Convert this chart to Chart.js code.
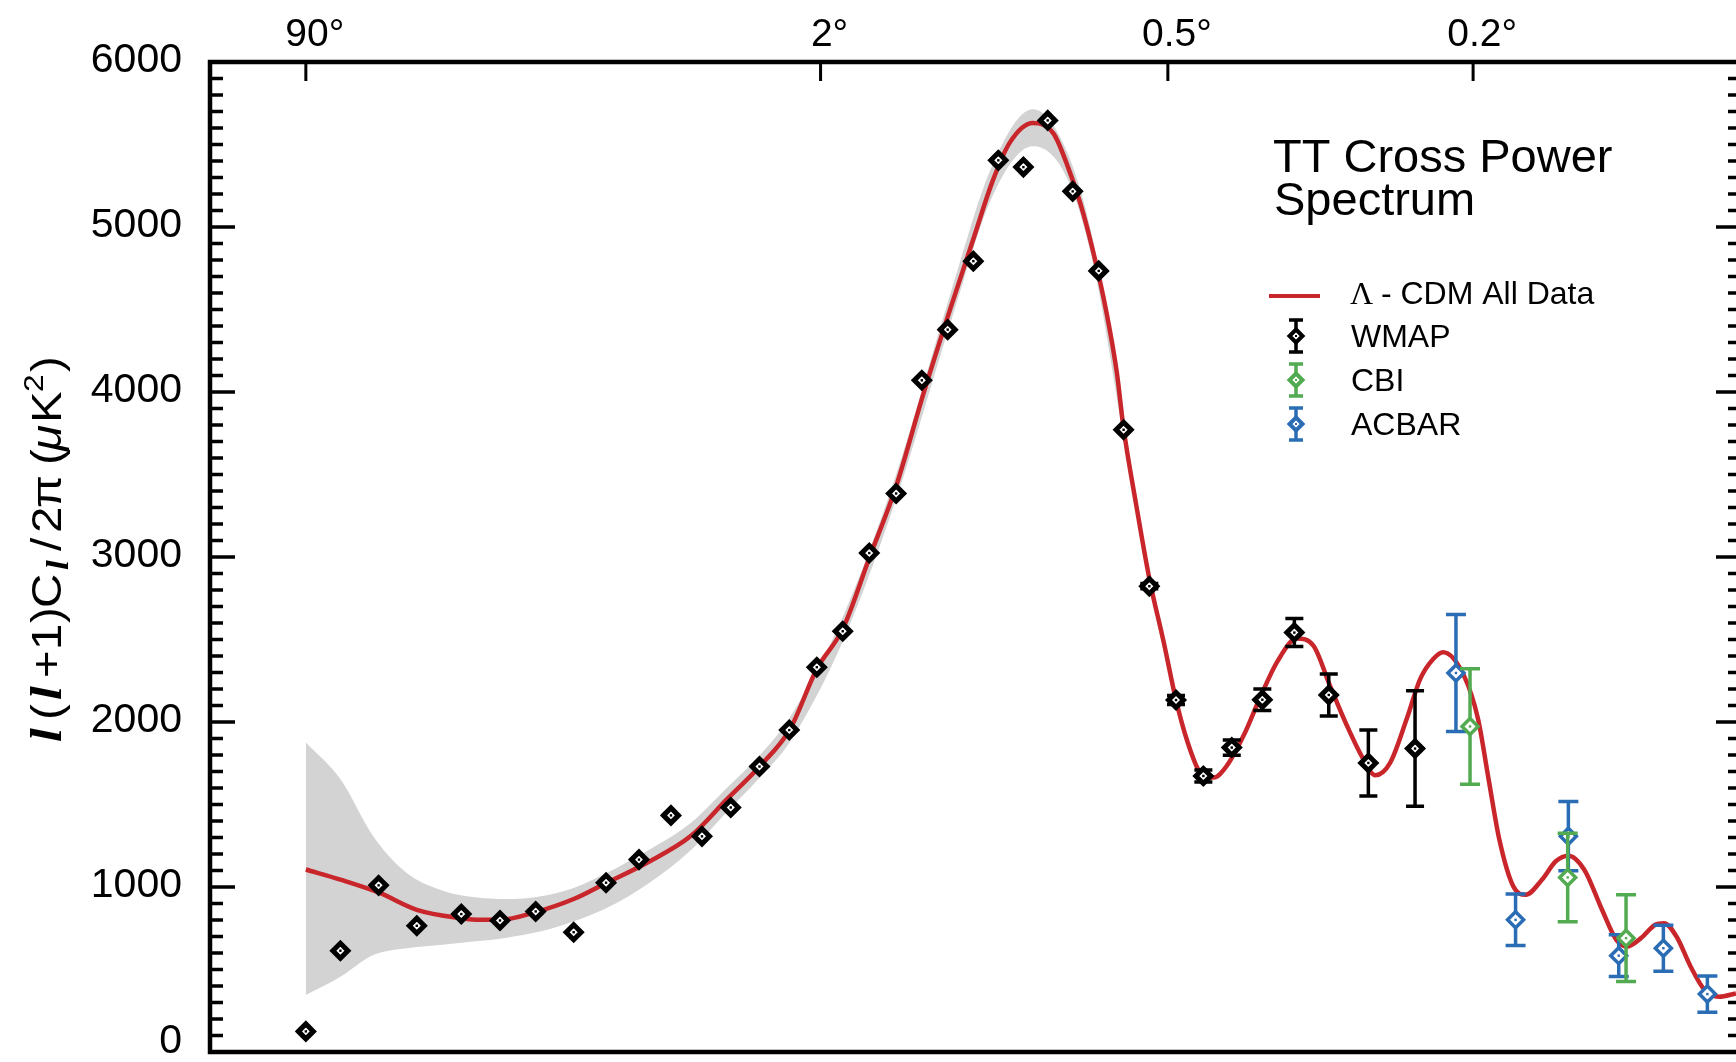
<!DOCTYPE html>
<html>
<head>
<meta charset="utf-8">
<title>TT Cross Power Spectrum</title>
<script src="https://cdn.jsdelivr.net/npm/chart.js@4.4.1/dist/chart.umd.min.js"></script>
<style>
    html, body { margin: 0; padding: 0; background: #fff; overflow: hidden; }
    #wrap { width: 1744px; height: 1062px; }
</style>
</head>
<body>
<div id="wrap"><canvas id="spectrum" width="1744" height="1062"></canvas></div>
<script>
// ========== DATA ==========
// x values are multipole l, y values are l(l+1)Cl/2pi in uK^2
const wmapL = [2.0, 3.0, 4.5, 6.5, 9.6, 13.1, 17.1, 22.3, 27.6, 33.9, 41.0, 48.9, 57.2, 66.5, 77.3, 88.4, 99.9,
    112.8, 127.1, 142.0, 158.3, 175.8, 194.2, 214.1, 234.8, 257.6, 283.1, 309.2, 338.0, 370.0, 405.1, 444.1,
    489.2, 540.0, 598.9, 672.5, 767.8];
const wmapV = [125, 614, 1010, 765, 836, 797, 852, 726, 1026, 1166, 1434, 1307, 1482, 1730, 1951, 2332, 2550,
    3024, 3385, 4071, 4378, 4793, 5404, 5363, 5646, 5216, 4734, 3771, 2823, 2133, 1673, 1845,
    2135, 2542, 2164, 1752, 1839];
const wmapErr = [0, 0, 0, 0, 0, 0, 0, 0, 0, 0, 0, 0, 0, 0, 0, 0, 0,
    0, 0, 0, 0, 0, 0, 0, 0, 0, 0, 0, 16, 27, 36, 46,
    65, 85, 127, 200, 350];

const cbiL = [892.6, 1151.0, 1330.1];
const cbiV = [1973, 1058, 690];
const cbiErr = [350, 268, 263];

const acbarL = [859.3, 1007.0, 1153.0, 1306.6, 1455.1, 1613.5];
const acbarV = [2297, 801, 1308, 584, 629, 351];
const acbarErr = [355, 156, 210, 127, 139, 110];

// Lambda-CDM best fit curve
const modelL = [2.0, 3.0, 4.5, 6.5, 9.6, 11.2, 13.1, 17.1, 22.3, 27.6, 35.5, 46, 56, 66.7, 77.6, 88.4, 100,
    113, 127, 143, 160, 176, 190, 203, 222, 240, 252, 265, 278, 291, 302, 309, 323, 338, 355, 370, 384,
    401, 419, 437, 461, 486, 512, 544, 572, 601, 632, 663, 686, 716, 750, 779, 808, 830, 878, 912, 938,
    965, 1001, 1034, 1078, 1117, 1153, 1200, 1254, 1299, 1333, 1379, 1427, 1457, 1501, 1552, 1604, 1658, 1723];
const modelV = [1106, 1045, 967, 862, 811, 801, 801, 848, 927, 1024, 1146, 1310, 1531, 1734, 1957, 2322, 2566,
    3000, 3425, 3990, 4504, 4932, 5281, 5510, 5630, 5566, 5384, 5142, 4838, 4484, 4115, 3786, 3318, 2870, 2484, 2133, 1886,
    1693, 1663, 1734, 1916, 2150, 2363, 2506, 2463, 2220, 1977, 1774, 1677, 1754, 2018, 2261, 2383, 2423, 2281, 2018, 1653,
    1288, 1004, 953, 1044, 1156, 1190, 1105, 862, 679, 639, 690, 771, 781, 700, 517, 375, 335, 355];

// cosmic variance band around the model
const bandL = [2.0, 3.0, 4.26, 5.92, 8.0, 10.6, 13.8, 17.6, 22.3, 27.7, 35.5, 46, 56, 66.7, 77.6, 100,
    127, 160, 190, 222, 252, 278, 309, 338, 370, 401];
const bandHigh = [1876, 1654, 1308, 1085, 984, 939, 927, 943, 994, 1085, 1217, 1390, 1600, 1800, 2030, 2640,
    3497, 4593, 5380, 5714, 5460, 4902, 3816, 2900, 2140, 1695];
const bandLow = [345, 456, 588, 629, 649, 669, 693, 730, 791, 872, 1014, 1225, 1455, 1665, 1880, 2491,
    3348, 4414, 5191, 5490, 5301, 4763, 3726, 2840, 2125, 1690];

const yTicks = [0, 1000, 2000, 3000, 4000, 5000, 6000];
const topTickL = [2, 90, 360, 900];
const topTickLabels = ["90°", "2°", "0.5°", "0.2°"];
const L_MIN = 0.491;
const L_MAX = 1743;

// ========== STYLE ==========
const FONT = "'Liberation Sans', Arial, Helvetica, sans-serif";
const SERIF = "'Liberation Serif', 'Times New Roman', serif";
const RED = "#c9262c";
const GREEN = "#52ab50";
const BLUE = "#2a6db5";
const GRAY = "#d3d3d3";

// the horizontal axis of the original figure runs as l^(1/4)
const toU = l => Math.pow(l, 0.25);
const pts = (ls, vs) => ls.map((l, i) => ({ x: toU(l), y: vs[i] }));

// ========== PLUGINS ==========
const errorBars = {
    id: "errorBars",
    beforeDatasetDraw(chart, args) {
        const ds = chart.data.datasets[args.index];
        if (!ds.errors) return;
        const ctx = chart.ctx;
        const xs = chart.scales.x;
        const ys = chart.scales.y;
        ctx.save();
        ctx.strokeStyle = ds.pointBorderColor;
        ctx.lineWidth = ds.errWidth;
        ctx.beginPath();
        ds.data.forEach((p, i) => {
            const e = ds.errors[i];
            if (!e) return;
            const px = xs.getPixelForValue(p.x);
            const top = ys.getPixelForValue(p.y + e);
            const bot = ys.getPixelForValue(p.y - e);
            const c = ds.capHalf;
            ctx.moveTo(px, top); ctx.lineTo(px, bot);
            ctx.moveTo(px - c, top); ctx.lineTo(px + c, top);
            ctx.moveTo(px - c, bot); ctx.lineTo(px + c, bot);
        });
        ctx.stroke();
        ctx.restore();
    },
    afterDatasetDraw(chart, args) {
        const ds = chart.data.datasets[args.index];
        if (!ds.errors) return;
        const ctx = chart.ctx;
        ctx.save();
        ctx.fillStyle = ds.pointBorderColor;
        chart.getDatasetMeta(args.index).data.forEach(pt => {
            ctx.fillRect(pt.x - 1.2, pt.y - 1.2, 2.4, 2.4);
        });
        ctx.restore();
    }
};

const frame = {
    id: "frame",
    afterDatasetsDraw(chart) {
        const { ctx, chartArea: a, scales } = chart;
        ctx.save();
        ctx.strokeStyle = "#000";
        ctx.lineWidth = 4.5;
        ctx.strokeRect(a.left, a.top, a.right - a.left, a.bottom - a.top);

        // minor ticks every 100, major every 1000, on both sides, pointing in
        ctx.lineWidth = 3.5;
        ctx.beginPath();
        for (let v = 100; v < 6000; v += 100) {
            const y = scales.y.getPixelForValue(v);
            const len = v % 1000 === 0 ? 25 : 13;
            ctx.moveTo(a.left, y); ctx.lineTo(a.left + len, y);
            ctx.moveTo(a.right, y); ctx.lineTo(a.right - len, y);
        }
        ctx.stroke();

        ctx.lineWidth = 3;
        ctx.beginPath();
        topTickL.forEach(l => {
            const x = scales.x.getPixelForValue(toU(l));
            ctx.moveTo(x, a.top); ctx.lineTo(x, a.top + 19);
        });
        ctx.stroke();

        // y tick labels (the 0 label sits a little above the bottom edge)
        ctx.fillStyle = "#000";
        ctx.font = "41px " + FONT;
        ctx.textAlign = "right";
        ctx.textBaseline = "middle";
        yTicks.forEach(v => {
            const y = Math.min(scales.y.getPixelForValue(v) - 1, a.bottom - 10);
            ctx.fillText(String(v), a.left - 28, y);
        });
        ctx.restore();
    }
};

function drawDiamond(ctx, x, y, r, color, lw) {
    ctx.beginPath();
    ctx.moveTo(x, y - r); ctx.lineTo(x + r, y); ctx.lineTo(x, y + r); ctx.lineTo(x - r, y);
    ctx.closePath();
    ctx.fillStyle = "#fff";
    ctx.fill();
    ctx.strokeStyle = color;
    ctx.lineWidth = lw;
    ctx.stroke();
}

// y-axis title glyphs: text, font, offset along the text, shift across it
const TITLE_GLYPHS = [
    ["l", "bold italic 44px " + SERIF, 0, 0],
    ["(", "42px " + FONT, 22, 0],
    ["l", "bold italic 44px " + SERIF, 42, 0],
    ["+", "42px " + FONT, 64, 0],
    ["1", "42px " + FONT, 92, 0],
    [")", "42px " + FONT, 119, 0],
    ["C", "42px " + FONT, 134, 0],
    ["l", "bold italic 31px " + SERIF, 172, 7],
    ["/", "42px " + FONT, 191, 0],
    ["2", "42px " + FONT, 209, 0],
    ["π", "42px " + FONT, 234, 0],
    ["(", "42px " + FONT, 277, 0],
    ["μ", "italic 42px " + FONT, 291, 0],
    ["K", "42px " + FONT, 319, 0],
    ["2", "28px " + FONT, 350, -18],
    [")", "42px " + FONT, 370, 0]
];

const annotations = {
    id: "annotations",
    afterDraw(chart) {
        const ctx = chart.ctx;
        ctx.save();
        ctx.fillStyle = "#000";
        ctx.textBaseline = "alphabetic";
        ctx.textAlign = "left";

        // title
        ctx.font = "47px " + FONT;
        ctx.fillText("TT Cross Power", 1273, 172);
        ctx.fillText("Spectrum", 1274, 215);

        // legend
        ctx.strokeStyle = RED;
        ctx.lineWidth = 4;
        ctx.beginPath();
        ctx.moveTo(1269, 296); ctx.lineTo(1320, 296);
        ctx.stroke();
        ctx.font = "32px " + SERIF;
        ctx.fillText("Λ", 1350, 304);
        ctx.font = "32px " + FONT;
        ctx.fillText(" - CDM All Data", 1372, 304);

        const entries = [
            { label: "WMAP", color: "#000", y: 336 },
            { label: "CBI", color: GREEN, y: 380 },
            { label: "ACBAR", color: BLUE, y: 424 }
        ];
        entries.forEach(e => {
            ctx.strokeStyle = e.color;
            ctx.lineWidth = 3.5;
            ctx.beginPath();
            ctx.moveTo(1296, e.y - 16); ctx.lineTo(1296, e.y + 16);
            ctx.moveTo(1289, e.y - 16); ctx.lineTo(1303, e.y - 16);
            ctx.moveTo(1289, e.y + 16); ctx.lineTo(1303, e.y + 16);
            ctx.stroke();
            drawDiamond(ctx, 1296, e.y, 6.5, e.color, 4);
            ctx.fillStyle = e.color;
            ctx.fillRect(1295, e.y - 1, 2, 2);
            ctx.fillStyle = "#000";
            ctx.font = "32px " + FONT;
            ctx.fillText(e.label, 1351, e.y + 11);
        });

        // y-axis title, rotated
        ctx.translate(61, 742);
        ctx.rotate(-Math.PI / 2);
        TITLE_GLYPHS.forEach(([t, font, x, dy]) => {
            ctx.save();
            ctx.translate(x, dy);
            ctx.scale(1.13, 1);
            ctx.font = font;
            ctx.fillText(t, 0, 0);
            ctx.restore();
        });
        ctx.restore();
    }
};

// ========== CHART ==========
const ctx = document.getElementById("spectrum").getContext("2d");

const spectrumChart = new Chart(ctx, {
    type: "line",
    data: {
        datasets: [
            {
                label: "CBI",
                data: pts(cbiL, cbiV),
                errors: cbiErr,
                showLine: false,
                pointStyle: "rectRot",
                pointRadius: 8,
                pointBorderWidth: 3.5,
                pointBackgroundColor: "#fff",
                pointBorderColor: GREEN,
                borderColor: GREEN,
                errWidth: 3.5,
                capHalf: 10,
                order: 0
            },
            {
                label: "ACBAR",
                data: pts(acbarL, acbarV),
                errors: acbarErr,
                showLine: false,
                pointStyle: "rectRot",
                pointRadius: 8,
                pointBorderWidth: 3.5,
                pointBackgroundColor: "#fff",
                pointBorderColor: BLUE,
                borderColor: BLUE,
                errWidth: 3.5,
                capHalf: 10,
                order: 1
            },
            {
                label: "WMAP",
                data: pts(wmapL, wmapV),
                errors: wmapErr,
                showLine: false,
                pointStyle: "rectRot",
                pointRadius: 7.5,
                pointBorderWidth: 5,
                pointBackgroundColor: "#fff",
                pointBorderColor: "#000",
                borderColor: "#000",
                errWidth: 3.5,
                capHalf: 9,
                order: 2
            },
            {
                label: "Λ - CDM All Data",
                data: pts(modelL, modelV),
                borderColor: RED,
                borderWidth: 4.5,
                pointRadius: 0,
                cubicInterpolationMode: "monotone",
                fill: false,
                order: 3
            },
            {
                label: "band high",
                data: pts(bandL, bandHigh),
                borderColor: "rgba(0,0,0,0)",
                borderWidth: 1,
                backgroundColor: GRAY,
                pointRadius: 0,
                cubicInterpolationMode: "monotone",
                fill: "+1",
                order: 4
            },
            {
                label: "band low",
                data: pts(bandL, bandLow),
                borderColor: "rgba(0,0,0,0)",
                borderWidth: 1,
                pointRadius: 0,
                cubicInterpolationMode: "monotone",
                fill: false,
                order: 5
            }
        ]
    },
    options: {
        responsive: false,
        animation: false,
        devicePixelRatio: 1,
        events: [],
        layout: { autoPadding: false, padding: { top: 0, right: 3, bottom: 10, left: 0 } },
        plugins: {
            legend: { display: false },
            tooltip: { enabled: false }
        },
        scales: {
            x: {
                type: "linear",
                position: "top",
                min: toU(L_MIN),
                max: toU(L_MAX),
                afterBuildTicks: function (scale) {
                    scale.ticks = topTickL.map(l => ({ value: toU(l) }));
                },
                afterFit: function (scale) {
                    scale.height = 62;
                    scale.paddingLeft = 0;
                    scale.paddingRight = 0;
                },
                ticks: {
                    autoSkip: false,
                    maxRotation: 0,
                    padding: 3,
                    labelOffset: 9,
                    color: "#000",
                    font: { family: FONT, size: 39 },
                    callback: function (value, index) {
                        return topTickLabels[index];
                    }
                },
                grid: { display: false, drawTicks: false },
                border: { display: false }
            },
            y: {
                type: "linear",
                min: 0,
                max: 6000,
                afterBuildTicks: function (scale) {
                    scale.ticks = yTicks.map(v => ({ value: v }));
                },
                afterFit: function (scale) {
                    scale.width = 210;
                    scale.paddingTop = 0;
                    scale.paddingBottom = 0;
                },
                ticks: { display: false },
                grid: { display: false, drawTicks: false },
                border: { display: false }
            }
        }
    },
    plugins: [errorBars, frame, annotations]
});
</script>
</body>
</html>
